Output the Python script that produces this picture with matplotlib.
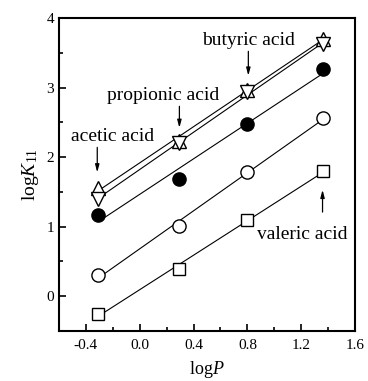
import matplotlib
matplotlib.use("Agg")
import matplotlib.pyplot as plt
import numpy as np

plt.rcParams['font.family'] = ['Liberation Serif', 'DejaVu Serif']
plt.rcParams['mathtext.fontset'] = 'custom'
plt.rcParams['mathtext.rm'] = 'Liberation Serif'
plt.rcParams['mathtext.it'] = 'Liberation Serif:italic'

logP = [-0.31, 0.29, 0.80, 1.36]
up_tri = [1.55, 2.23, 2.97, 3.70]
down_tri = [1.40, 2.20, 2.93, 3.62]
filled_circ = [1.17, 1.68, 2.48, 3.26]
open_circ = [0.30, 1.01, 1.78, 2.56]
square = [-0.25, 0.39, 1.09, 1.80]

series = [
    (up_tri, '^', 'white', 10),
    (down_tri, 'v', 'white', 10),
    (filled_circ, 'o', 'black', 9.5),
    (open_circ, 'o', 'white', 9.5),
    (square, 's', 'white', 8),
]

# label text, text position, arrow start, arrow end
labels = [
    ('acetic acid', (-0.20, 2.29), (-0.315, 2.14), (-0.315, 1.78)),
    ('propionic acid', (0.175, 2.89), (0.295, 2.73), (0.295, 2.42)),
    ('butyric acid', (0.807, 3.68), (0.807, 3.52), (0.807, 3.17)),
    ('valeric acid', (1.207, 0.89), (1.358, 1.21), (1.358, 1.53)),
]

fig = plt.figure(figsize=(3.68, 3.81), dpi=100)
ax = fig.add_axes([0.160, 0.131, 0.805, 0.822])

x = np.array(logP)
for ys, m, fc, ms in series:
    k, b = np.polyfit(x, ys, 1)
    xl = np.array([x[0] + 0.02, x[-1]])
    ax.plot(xl, k * xl + b, color='black', lw=0.8, zorder=2)
    ax.plot(x, ys, linestyle='none', marker=m, ms=ms, mfc=fc, mec='black',
            mew=1.0, zorder=3)

for txt, tp, a0, a1 in labels:
    ax.text(tp[0], tp[1], txt, fontsize=14, ha='center', va='center')
    ax.annotate('', xy=a1, xytext=a0,
                arrowprops=dict(arrowstyle='-|>,head_length=0.45,head_width=0.12',
                                lw=0.9, color='black', shrinkA=0, shrinkB=0))

ax.set_xlim(-0.6, 1.6)
ax.set_ylim(-0.5, 4)
ax.set_xticks([-0.4, 0.0, 0.4, 0.8, 1.2, 1.6])
ax.set_xticklabels(['-0.4', '0.0', '0.4', '0.8', '1.2', '1.6'])
ax.set_xticks(np.arange(-0.6, 1.61, 0.2), minor=True)
ax.set_yticks([0, 1, 2, 3, 4])
ax.set_yticks(np.arange(-0.5, 4.01, 0.5), minor=True)
ax.tick_params(direction='in', which='both', labelsize=11, width=1.2)
ax.tick_params(which='major', length=5)
ax.tick_params(which='minor', length=3)
ax.tick_params(axis='x', pad=6)
for s in ax.spines.values():
    s.set_linewidth(1.5)

ax.set_xlabel(r'log$\it{P}$', fontsize=13, labelpad=5)
ax.set_ylabel(r'log$\it{K}$$_{11}$', fontsize=14, labelpad=4)

fig.savefig('out.png', dpi=100)
